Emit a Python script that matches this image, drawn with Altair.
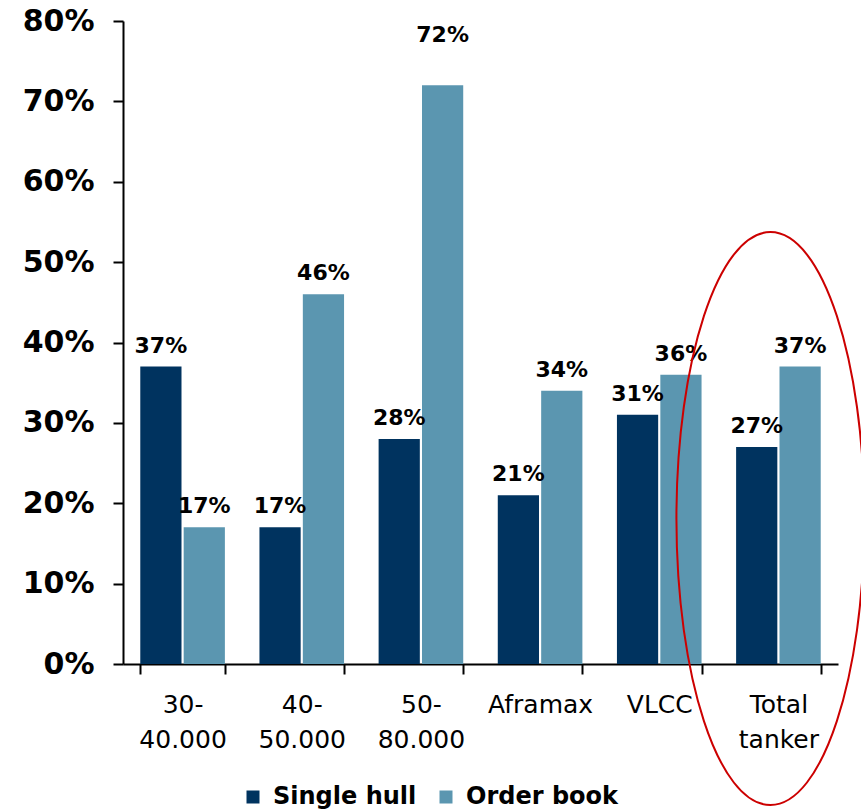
import altair as alt
import pandas as pd

# Tanker segments (two-line axis labels use "\n")
categories = ["30-\n40.000", "40-\n50.000", "50-\n80.000", "Aframax", "VLCC", "Total\ntanker"]
series = ["Single hull", "Order book"]
single_hull = [37, 17, 28, 21, 31, 27]
order_book = [17, 46, 72, 34, 36, 37]
colors = ["#00335f", "#5b96b0"]

rows = []
for cat, sh, ob in zip(categories, single_hull, order_book):
    rows.append({"cat": cat, "series": series[0], "value": sh, "label": f"{sh}%"})
    rows.append({"cat": cat, "series": series[1], "value": ob, "label": f"{ob}%"})
df = pd.DataFrame(rows)

# Highlight ring around the total group (centre in data units)
ring = pd.DataFrame({"cat": ["Total\ntanker"], "value": [18.1]})
ellipse_path = "M -0.356 0 A 0.328 1 0 1 1 0.300 0 A 0.328 1 0 1 1 -0.356 0 Z"

FONT = "DejaVu Sans"

x_enc = alt.X(
    "cat:N",
    sort=categories,
    scale=alt.Scale(paddingInner=0.29, paddingOuter=0.145),
    axis=alt.Axis(
        title=None,
        labelAngle=0,
        labelExpr="split(datum.label, '\\n')",
        labelFont=FONT,
        labelFontSize=25,
        labelColor="black",
        labelLineHeight=35,
        labelPadding=18,
        labelBaseline="top",
        tickBand="extent",
        tickSize=10,
        tickColor="black",
        tickWidth=2,
        domainColor="black",
        domainWidth=2,
    ),
)

y_enc = alt.Y(
    "value:Q",
    scale=alt.Scale(domain=[0, 80]),
    axis=alt.Axis(
        title=None,
        values=list(range(0, 81, 10)),
        labelExpr="datum.value + '%'",
        labelFont=FONT,
        labelFontWeight="bold",
        labelFontSize=30,
        labelColor="black",
        labelPadding=19,
        tickSize=10,
        tickColor="black",
        tickWidth=2,
        domainColor="black",
        domainWidth=2,
        grid=False,
    ),
)

x_off = alt.XOffset("series:N", sort=series, scale=alt.Scale(paddingInner=0.05))

bars = alt.Chart(df).mark_bar().encode(
    x=x_enc,
    xOffset=x_off,
    y=y_enc,
    color=alt.Color(
        "series:N",
        scale=alt.Scale(domain=series, range=colors),
        legend=alt.Legend(
            title=None,
            orient="none",
            legendX=118,
            legendY=764,
            direction="horizontal",
            symbolType="square",
            symbolSize=169,
            symbolStrokeWidth=0,
            labelFont=FONT,
            labelFontWeight="bold",
            labelFontSize=24,
            labelColor="black",
            columnPadding=17,
            labelOffset=8,
        ),
    ),
)

# Value labels sit above each bar; the tallest one is lifted clear of the bar
labels = alt.Chart(df).transform_calculate(
    pos="datum.value > 70 ? datum.value + 3.6 : datum.value"
).mark_text(
    font=FONT, fontWeight="bold", fontSize=22, baseline="alphabetic", dy=-14, color="black"
).encode(
    x=alt.X("cat:N", sort=categories),
    xOffset=x_off,
    y=alt.Y("pos:Q"),
    text="label:N",
)

circle = alt.Chart(ring).mark_point(
    shape=ellipse_path, size=328329, filled=False, stroke="#cc0000", strokeWidth=2, opacity=1
).encode(
    x=alt.X("cat:N", sort=categories),
    y=alt.Y("value:Q"),
)

chart = (
    alt.layer(bars, labels, circle)
    .properties(
        width=715,
        height=643,
        autosize="none",
        padding={"left": 123, "top": 21, "right": 23, "bottom": 146},
    )
    .configure_view(stroke=None)
)

chart.save("out.html", embed_options={"renderer": "svg", "actions": False})
